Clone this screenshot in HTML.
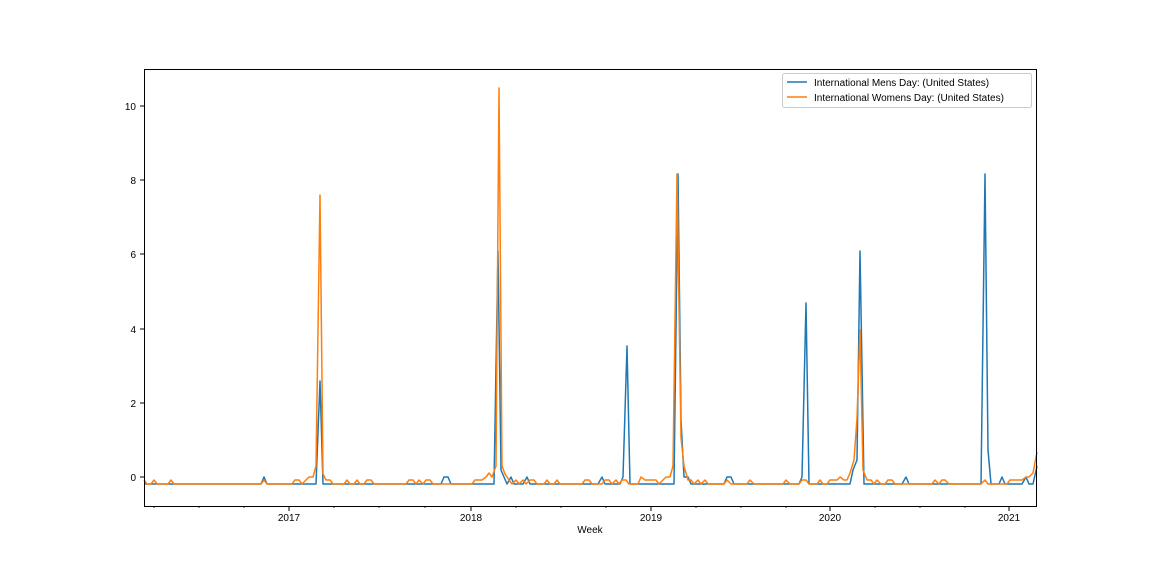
<!DOCTYPE html>
<html><head><meta charset="utf-8"><style>body{margin:0;background:#fff}svg{display:block;font-family:"Liberation Sans","DejaVu Sans",sans-serif}</style></head><body>
<svg width="1152" height="576" xmlns="http://www.w3.org/2000/svg">
<rect width="1152" height="576" fill="#fff"/>
<g stroke="#000" stroke-width="1" font-size="10" fill="#000">
<line x1="144" y1="106" x2="140" y2="106"/><text x="136" y="110" text-anchor="end" stroke="none">10</text>
<line x1="144" y1="180" x2="140" y2="180"/><text x="136" y="184" text-anchor="end" stroke="none">8</text>
<line x1="144" y1="254" x2="140" y2="254"/><text x="136" y="258" text-anchor="end" stroke="none">6</text>
<line x1="144" y1="329" x2="140" y2="329"/><text x="136" y="333" text-anchor="end" stroke="none">4</text>
<line x1="144" y1="403" x2="140" y2="403"/><text x="136" y="407" text-anchor="end" stroke="none">2</text>
<line x1="144" y1="477" x2="140" y2="477"/><text x="136" y="481" text-anchor="end" stroke="none">0</text>
<line x1="289" y1="506" x2="289" y2="511"/><text x="289" y="521" text-anchor="middle" stroke="none">2017</text>
<line x1="471" y1="506" x2="471" y2="511"/><text x="471" y="521" text-anchor="middle" stroke="none">2018</text>
<line x1="651" y1="506" x2="651" y2="511"/><text x="651" y="521" text-anchor="middle" stroke="none">2019</text>
<line x1="830" y1="506" x2="830" y2="511"/><text x="830" y="521" text-anchor="middle" stroke="none">2020</text>
<line x1="1009" y1="506" x2="1009" y2="511"/><text x="1009" y="521" text-anchor="middle" stroke="none">2021</text>
<g stroke-width="0.8">
<line x1="154" y1="506" x2="154" y2="508"/><line x1="199" y1="506" x2="199" y2="508"/><line x1="244" y1="506" x2="244" y2="508"/>
<line x1="334" y1="506" x2="334" y2="508"/><line x1="379" y1="506" x2="379" y2="508"/><line x1="425" y1="506" x2="425" y2="508"/>
<line x1="516" y1="506" x2="516" y2="508"/><line x1="561" y1="506" x2="561" y2="508"/><line x1="606" y1="506" x2="606" y2="508"/>
<line x1="696" y1="506" x2="696" y2="508"/><line x1="741" y1="506" x2="741" y2="508"/><line x1="786" y1="506" x2="786" y2="508"/>
<line x1="875" y1="506" x2="875" y2="508"/><line x1="920" y1="506" x2="920" y2="508"/><line x1="965" y1="506" x2="965" y2="508"/>
</g>
<text x="590" y="533" text-anchor="middle" stroke="none">Week</text>
</g>
<polyline fill="none" stroke="#1f77b4" stroke-width="1.5" stroke-linejoin="round" points="144,484 261,484 264,477 267,484 316,484 320,381 323,484 441,484 444,477 448,477 451,484 494,484 498,251 501,470 507,484 511,477 514,484 523,484 527,477 530,484 598,484 602,477 605,484 620,484 623,477 627,346 630,484 674,484 678,174 681,420 684,477 688,477 691,484 724,484 727,477 731,477 734,484 799,484 802,477 806,303 809,484 850,484 853,470 857,460 860,251 864,484 902,484 906,477 909,484 981,484 985,174 988,450 991,484 999,484 1002,477 1005,484 1022,484 1026,477 1029,484 1033,484 1037,466"/>
<polyline fill="none" stroke="#ff7f0e" stroke-width="1.5" stroke-linejoin="round" points="144,480 147,484 151,484 154,480 157,484 168,484 171,480 174,484 261,484 264,480 267,484 292,484 295,480 299,480 302,484 306,480 309,477 313,477 316,466 320,195 323,474 326,480 330,480 333,484 344,484 347,480 350,484 354,484 357,480 360,484 364,484 367,480 371,480 374,484 406,484 409,480 413,480 416,484 419,480 423,484 426,480 430,480 433,484 472,484 475,480 479,480 482,480 486,477 489,473 492,477 496,466 499,88 502,466 505,474 509,480 512,484 516,480 519,484 523,480 526,484 530,480 534,480 537,484 544,484 547,480 550,484 554,484 557,480 560,484 582,484 585,480 589,480 592,484 602,484 605,480 609,480 612,484 616,480 619,484 622,480 626,480 629,484 638,484 641,477 645,480 656,480 659,484 666,477 670,477 673,466 677,174 681,438 684,466 688,480 691,480 694,484 698,480 701,484 705,480 708,484 724,484 727,480 731,484 747,484 750,480 754,484 783,484 786,480 790,484 799,484 802,480 806,480 809,484 817,484 820,480 823,484 827,484 830,480 837,480 840,477 844,480 847,480 850,473 854,460 857,418 860,330 863,470 867,480 871,480 874,484 877,480 881,484 885,484 888,480 892,480 895,484 932,484 935,480 939,484 942,480 945,480 949,484 981,484 985,480 988,484 1007,484 1010,480 1022,480 1026,477 1029,477 1033,473 1037,452"/>
<rect x="144.5" y="69.5" width="892" height="437" fill="none" stroke="#000" stroke-width="1"/>
<rect x="782.5" y="73.5" width="249" height="34" rx="2" fill="#fff" fill-opacity="0.8" stroke="#ccc"/>
<line x1="787" y1="82" x2="807" y2="82" stroke="#1f77b4" stroke-width="1.5"/>
<line x1="787" y1="97" x2="807" y2="97" stroke="#ff7f0e" stroke-width="1.5"/>
<text x="814" y="86" font-size="10">International Mens Day: (United States)</text>
<text x="814" y="101" font-size="10">International Womens Day: (United States)</text>
</svg>
</body></html>
